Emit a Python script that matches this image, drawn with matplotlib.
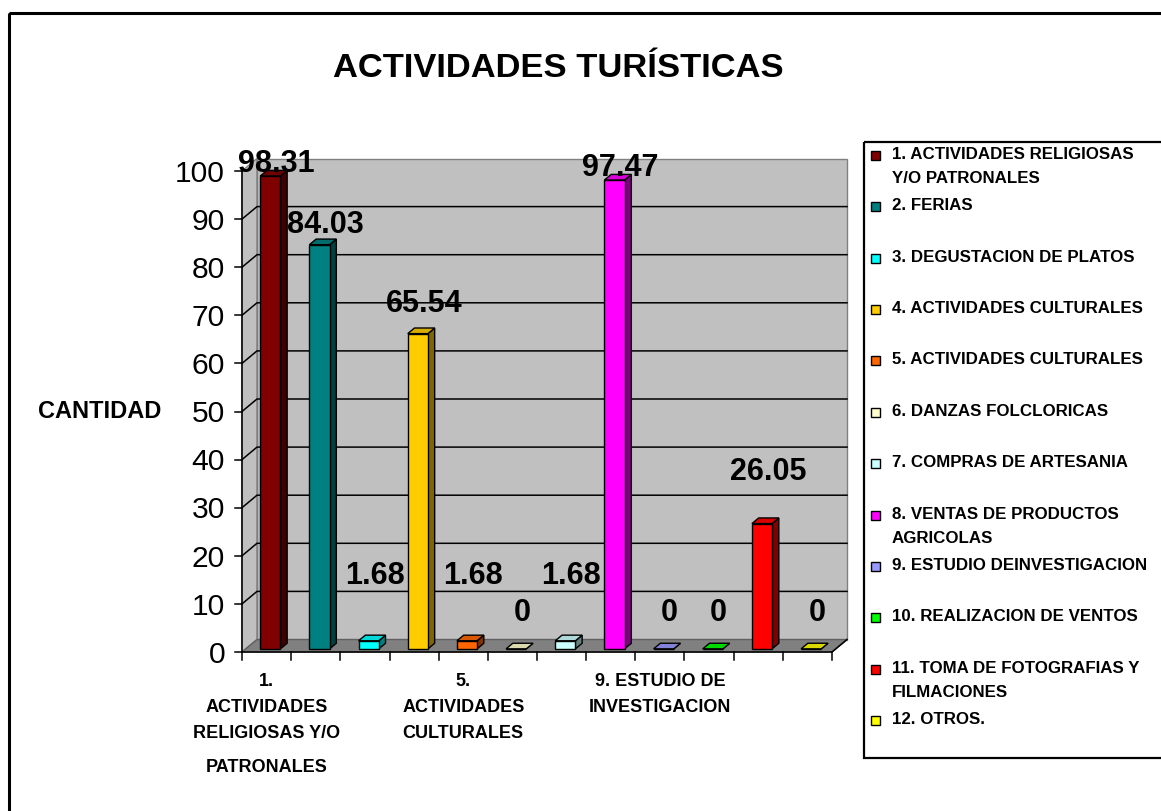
import matplotlib
matplotlib.use('Agg')
import matplotlib.pyplot as plt
from matplotlib.colors import to_rgb
from matplotlib.patches import Polygon, Rectangle
from matplotlib.transforms import Affine2D

plt.rcParams['font.family'] = ['Liberation Sans', 'DejaVu Sans']

# datos
titulo = 'ACTIVIDADES TURÍSTICAS'
eje_y = 'CANTIDAD'
valores = [98.31, 84.03, 1.68, 65.54, 1.68, 0, 1.68, 97.47, 0, 0, 26.05, 0]
colores = ['#800000', '#008080', '#00ffff', '#ffcc00', '#ff6600', '#ffffcc',
           '#ccffff', '#ff00ff', '#9999ff', '#00ff00', '#ff0000', '#ffff00']
leyenda = ['1. ACTIVIDADES RELIGIOSAS\nY/O PATRONALES', '2. FERIAS',
           '3. DEGUSTACION DE PLATOS', '4. ACTIVIDADES CULTURALES',
           '5. ACTIVIDADES CULTURALES', '6. DANZAS FOLCLORICAS',
           '7. COMPRAS DE ARTESANIA', '8. VENTAS DE PRODUCTOS\nAGRICOLAS',
           '9. ESTUDIO DEINVESTIGACION', '10. REALIZACION DE VENTOS',
           '11. TOMA DE FOTOGRAFIAS Y\nFILMACIONES', '12. OTROS.']
etiquetas_x = {0: ['1.', 'ACTIVIDADES', 'RELIGIOSAS Y/O', 'PATRONALES'],
               4: ['5.', 'ACTIVIDADES', 'CULTURALES'],
               8: ['9. ESTUDIO DE', 'INVESTIGACION']}
ticks_y = list(range(0, 101, 10))

W, H = 1161, 811
fig = plt.figure(figsize=(W / 100, H / 100), dpi=100)
px = Affine2D().scale(1 / W, -1 / H).translate(0, 1) + fig.transFigure

# ejes: x=0 -> 242px, x=12 -> 832px ; y=0 -> 652px, y=100 -> 171px
sx = (832 - 242) / 12
sy = (652 - 171) / 100
xlim = (-1, 13)
ylim = (-5, 110)
left = 242 + xlim[0] * sx
right = 242 + xlim[1] * sx
bottom = 652 - ylim[0] * sy
top = 652 - ylim[1] * sy
ax = fig.add_axes([left / W, 1 - bottom / H, (right - left) / W, (bottom - top) / H])
ax.set_xlim(xlim)
ax.set_ylim(ylim)
ax.axis('off')

n = len(valores)
DX = 15 / sx
DY = 12.5 / sy

# paredes y piso
ax.add_patch(Polygon([(0, 0), (0, 100), (DX, 100 + DY), (DX, DY)],
                     facecolor='#c0c0c0', edgecolor='#808080', lw=1, zorder=1))
ax.add_patch(Polygon([(DX, DY), (n + DX, DY), (n + DX, 100 + DY), (DX, 100 + DY)],
                     facecolor='#c0c0c0', edgecolor='#808080', lw=1, zorder=1))
ax.add_patch(Polygon([(0, 0), (n, 0), (n + DX, DY), (DX, DY)],
                     facecolor='#808080', edgecolor='#606060', lw=1, zorder=1))

for v in ticks_y[1:-1]:
    ax.plot([0, DX, n + DX], [v, v + DY, v + DY], color='black', lw=1.1, zorder=2)

# barras 3D
f0 = 0.25
bd = 0.45
ancho = 0.41
for i, (v, c) in enumerate(zip(valores, colores)):
    rgb = to_rgb(c)
    lado = tuple(ch * 0.5 for ch in rgb)
    tapa = tuple(ch * 0.85 for ch in rgb)
    xc = i + 0.5 + f0 * DX
    xl, xr = xc - ancho / 2, xc + ancho / 2
    y0 = f0 * DY
    ddx, ddy = bd * DX, bd * DY
    ax.add_patch(Polygon([(xr, y0), (xr + ddx, y0 + ddy), (xr + ddx, v + y0 + ddy), (xr, v + y0)],
                         facecolor=lado, edgecolor='black', lw=1, zorder=3))
    ax.add_patch(Polygon([(xl, v + y0), (xr, v + y0), (xr + ddx, v + y0 + ddy), (xl + ddx, v + y0 + ddy)],
                         facecolor=tapa, edgecolor='black', lw=1, zorder=3))
    ax.add_patch(Rectangle((xl, y0), ancho, v, facecolor=c, edgecolor='black', lw=1, zorder=3))
    # etiqueta del valor
    if v > 0:
        ylab = v + 12.7 - 0.115 * v
    else:
        ylab = 6.4
    ax.text(xc + 0.12, ylab, f'{v:g}', ha='center', va='baseline', fontsize=22,
            fontweight='bold', zorder=5, clip_on=False)

# ejes y marcas
ax.plot([0, 0], [0, 100], color='black', lw=1.1, zorder=4, clip_on=False)
ax.plot([0, n, n + DX], [0, 0, DY], color='black', lw=1.1, zorder=4, clip_on=False)
for k in range(n + 1):
    ax.plot([k, k], [0, -8 / sy], color='black', lw=1.1, zorder=4, clip_on=False)
for v in ticks_y:
    ax.plot([-7 / sx, 0], [v, v], color='black', lw=1.1, zorder=4, clip_on=False)
    ax.text(-17 / sx, v - 10.75 / sy, str(v), ha='right', va='baseline', fontsize=21.6,
            clip_on=False)

for i, lineas in etiquetas_x.items():
    base = [686.5, 711.5, 737.5, 772.5]
    for j, t in enumerate(lineas):
        ax.text(i + 0.5, -(base[j] - 652) / sy, t, ha='center', va='baseline',
                fontsize=13, fontweight='bold', clip_on=False)

# titulo y etiqueta del eje
fig.text(558, 77, titulo, transform=px, ha='center', va='baseline',
         fontsize=24.8, fontweight='bold')
fig.text(161, 418, eje_y, transform=px, ha='right', va='baseline',
         fontsize=17, fontweight='bold')

# leyenda
fig.patches.append(Rectangle((864, 142), 400, 616, transform=px, fill=False,
                             edgecolor='black', lw=1.6))
paso = (718 - 153) / 11
for i, (t, c) in enumerate(zip(leyenda, colores)):
    yc = 153 + i * paso
    fig.patches.append(Rectangle((871, yc - 2), 9, 9, transform=px, facecolor=c,
                                 edgecolor='black', lw=1))
    for j, linea in enumerate(t.split('\n')):
        fig.text(892, yc + 6 + j * 24, linea, transform=px, ha='left',
                 va='baseline', fontsize=12.2, fontweight='bold')

# borde del grafico
fig.patches.append(Rectangle((9, 13), 1300, 1000, transform=px, fill=False,
                             edgecolor='black', lw=2.2))

fig.savefig('out.png', dpi=100)
